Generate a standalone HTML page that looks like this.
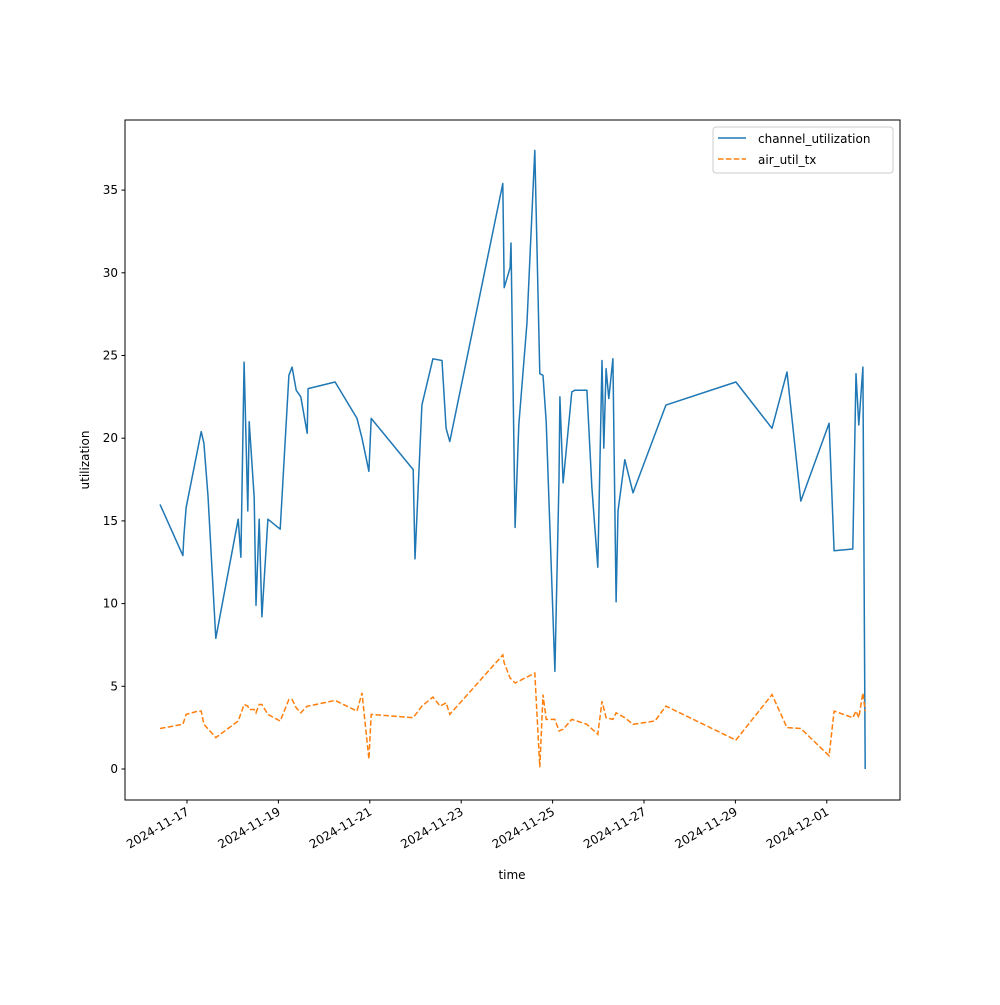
<!DOCTYPE html>
<html><head><meta charset="utf-8"><style>
body{margin:0;background:#fff}
svg text{font-family:"DejaVu Sans","Liberation Sans",sans-serif;font-size:12px;fill:#000}
</style></head><body>
<svg id="chart" width="1000" height="1000" xmlns="http://www.w3.org/2000/svg">
<rect width="1000" height="1000" fill="#fff"/>
<g id="plot"></g>
</svg>
<script>
// days since 2024-11-17
const blueDays=[-0.59,-0.09,-0.07,-0.02,0.31,0.37,0.46,0.63,1.12,1.18,1.25,1.33,1.36,1.47,1.51,1.58,1.64,1.77,2.04,2.10,2.23,2.30,2.39,2.49,2.63,2.65,3.24,3.72,3.83,3.98,4.03,4.95,4.99,5.14,5.38,5.58,5.67,5.75,6.91,6.94,7.07,7.09,7.18,7.26,7.44,7.61,7.72,7.79,7.86,8.05,8.14,8.16,8.23,8.42,8.49,8.75,8.86,8.99,9.08,9.12,9.17,9.23,9.32,9.39,9.43,9.58,9.76,10.48,12.01,12.80,13.13,13.43,14.05,14.16,14.57,14.64,14.70,14.79,14.84];
const blueVals=[16.0,12.9,14.0,15.8,20.4,19.7,16.5,7.9,15.1,12.8,24.6,15.6,21.0,16.4,9.9,15.1,9.2,15.1,14.5,17.5,23.8,24.3,22.9,22.5,20.3,23.0,23.4,21.2,20.0,18.0,21.2,18.1,12.7,22.0,24.8,24.7,20.6,19.8,35.4,29.1,30.3,31.8,14.6,20.8,27.0,37.4,23.9,23.8,21.0,5.9,17.5,22.5,17.3,22.8,22.9,22.9,17.0,12.2,24.7,19.4,24.2,22.4,24.8,10.1,15.6,18.7,16.7,22.0,23.4,20.6,24.0,16.2,20.9,13.2,13.3,23.9,20.8,24.3,0.0];
const orangeDays=[-0.59,-0.09,-0.02,0.24,0.31,0.37,0.63,1.12,1.25,1.33,1.36,1.47,1.51,1.58,1.64,1.77,2.04,2.23,2.30,2.39,2.49,2.63,2.65,3.24,3.72,3.83,3.98,4.03,4.95,5.14,5.38,5.54,5.67,5.75,6.91,6.94,7.07,7.18,7.61,7.72,7.79,7.86,8.05,8.14,8.23,8.42,8.75,8.99,9.08,9.17,9.32,9.39,9.58,9.76,10.24,10.48,12.01,12.80,13.13,13.43,14.05,14.16,14.57,14.64,14.70,14.79,14.84];
const orangeVals=[2.45,2.7,3.3,3.5,3.5,2.7,1.9,2.9,3.9,3.8,3.6,3.6,3.4,3.9,3.9,3.3,2.9,4.2,4.2,3.7,3.4,3.8,3.8,4.15,3.5,4.6,0.6,3.3,3.1,3.8,4.35,3.8,4.0,3.3,6.9,6.4,5.5,5.2,5.8,0.1,4.5,3.0,3.0,2.3,2.4,3.0,2.7,2.1,4.1,3.1,3.0,3.4,3.1,2.7,2.9,3.8,1.75,4.5,2.5,2.45,0.8,3.5,3.1,3.5,3.1,4.6,3.5];
const xTickDays=[0,2,4,6,8,10,12,14];
const xTickLabels=["2024-11-17","2024-11-19","2024-11-21","2024-11-23","2024-11-25","2024-11-27","2024-11-29","2024-12-01"];
const yTicks=[0,5,10,15,20,25,30,35];

const L=125,R=900,T=120,B=800;
const x=d=>187+d*45.7;
const y=v=>769-v*16.54;
const NS="http://www.w3.org/2000/svg";
const g=document.getElementById('plot');
function mk(tag,attrs,parent){const e=document.createElementNS(NS,tag);for(const k in attrs)e.setAttribute(k,attrs[k]);(parent||g).appendChild(e);return e;}

const b=mk('path',{d:blueDays.map((d,i)=>(i?'L':'M')+x(d).toFixed(1)+','+y(blueVals[i]).toFixed(1)).join(''),fill:'none',stroke:'#1f77b4','stroke-width':1.5,'stroke-linejoin':'round'});


const o=mk('path',{d:orangeDays.map((d,i)=>(i?'L':'M')+x(d).toFixed(1)+','+y(orangeVals[i]).toFixed(1)).join(''),fill:'none',stroke:'#ff7f0e','stroke-width':1.5,'stroke-dasharray':'5.5,2.4'});



const fr=mk('rect',{x:L,y:T,width:R-L,height:B-T,fill:'none',stroke:'#000','stroke-width':1});



yTicks.forEach(v=>{
  mk('line',{x1:L-3.5,x2:L,y1:y(v),y2:y(v),stroke:'#000'});
  const t=mk('text',{x:L-7,y:y(v)+4,'text-anchor':'end'});t.textContent=v;
  
  
});
xTickDays.forEach((d,i)=>{
  mk('line',{x1:x(d),x2:x(d),y1:B,y2:B+3.5,stroke:'#000'});
  const t=mk('text',{x:x(d)+3,y:B+14,'text-anchor':'end',transform:`rotate(-30 ${x(d)+3} ${B+14})`});t.textContent=xTickLabels[i];
  
  
});
const xt=mk('text',{x:512,y:879,'text-anchor':'middle'});xt.textContent='time';


const yt=mk('text',{x:89,y:460,'text-anchor':'middle',transform:'rotate(-90 89 460)'});yt.textContent='utilization';



const lg=mk('g',{});


mk('rect',{x:713,y:127,width:180,height:46,rx:3,fill:'#fff',stroke:'#ccc'},lg);
mk('line',{x1:718,x2:746,y1:138,y2:138,stroke:'#1f77b4','stroke-width':1.5},lg);
mk('line',{x1:718,x2:746,y1:159,y2:159,stroke:'#ff7f0e','stroke-width':1.5,'stroke-dasharray':'5.5,2.4'},lg);
const l1=mk('text',{x:758,y:143},lg);l1.textContent='channel_utilization';


const l2=mk('text',{x:758,y:164},lg);l2.textContent='air_util_tx';


</script>
</body></html>
